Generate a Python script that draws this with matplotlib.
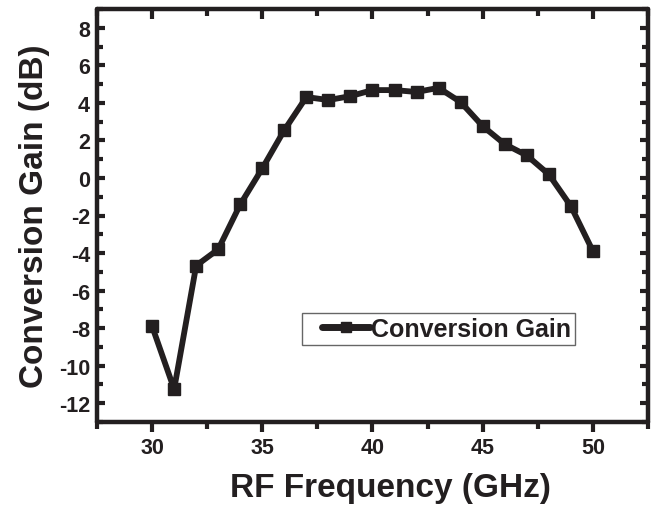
import matplotlib
matplotlib.use("Agg")
import matplotlib.pyplot as plt
from matplotlib.ticker import MultipleLocator
from matplotlib.patches import Rectangle

freq = [30, 31, 32, 33, 34, 35, 36, 37, 38, 39, 40, 41, 42, 43, 44, 45, 46, 47, 48, 49, 50]
gain = [-7.9, -11.25, -4.67, -3.8, -1.41, 0.51, 2.55, 4.31, 4.15, 4.36, 4.68, 4.68, 4.58, 4.8,
        4.04, 2.76, 1.8, 1.2, 0.19, -1.5, -3.9]
series_label = "Conversion Gain"
xlabel = "RF Frequency (GHz)"
ylabel = "Conversion Gain (dB)"

plt.rcParams['font.family'] = ['Liberation Sans', 'DejaVu Sans']
plt.rcParams['font.weight'] = 'bold'
plt.rcParams['axes.unicode_minus'] = False
ink = '#231f20'

fig = plt.figure(figsize=(6.57, 5.10), dpi=100)
ax = fig.add_axes([97/657, 1 - 423/510, (648-97)/657, (423-10)/510])

ax.plot(freq, gain, color=ink, lw=4.2, marker='s', ms=9, mfc=ink, mec=ink,
        solid_capstyle='round', label=series_label)

ax.set_xlim(27.5, 52.5)
ax.set_ylim(-13, 9)
ax.xaxis.set_major_locator(MultipleLocator(5))
ax.xaxis.set_minor_locator(MultipleLocator(2.5))
ax.yaxis.set_major_locator(MultipleLocator(2))
ax.yaxis.set_minor_locator(MultipleLocator(1))

for s in ax.spines.values():
    s.set_linewidth(3.2)
    s.set_color(ink)
    s.set_capstyle('round')

ax.tick_params(axis='both', which='both', color=ink, labelcolor=ink, labelsize=15.5)
ax.tick_params(axis='x', which='both', direction='out', top=True)
ax.tick_params(axis='x', which='major', length=7, width=3)
ax.tick_params(axis='x', which='minor', length=5, width=3)
ax.tick_params(axis='y', which='both', direction='in', right=True)
ax.tick_params(axis='y', which='major', length=6, width=3)
ax.tick_params(axis='y', which='minor', length=4, width=3)
ax.tick_params(axis='x', which='both', pad=4)
ax.tick_params(axis='y', which='both', pad=5)
for lab in ax.get_xticklabels() + ax.get_yticklabels():
    lab.set_fontweight('bold')

# top ticks inward
for t in ax.xaxis.get_major_ticks() + ax.xaxis.get_minor_ticks():
    t.tick2line.set_marker(3)  # TICKDOWN

ax.set_xlabel(xlabel, fontsize=24, fontweight='bold', color=ink)
ax.xaxis.set_label_coords((390 - 97) / 551, -0.12)
ax.set_ylabel(ylabel, fontsize=24, fontweight='bold', color=ink, labelpad=6)

# legend frame
ax.add_patch(Rectangle((0.372, 0.186), 0.495, 0.078, transform=ax.transAxes, fill=False,
                       edgecolor='#666666', lw=1.0, zorder=5))
leg = ax.legend(loc='center left', bbox_to_anchor=((322 - 97) / 551, 0.225),
                frameon=False, fontsize=18, handlelength=1.9, handletextpad=0.05,
                borderaxespad=0, borderpad=0, markerscale=0.75)
for txt in leg.get_texts():
    txt.set_fontweight('bold')
    txt.set_color(ink)
for h in leg.get_lines():
    h.set_linewidth(5)

fig.savefig('out.png', dpi=100)
